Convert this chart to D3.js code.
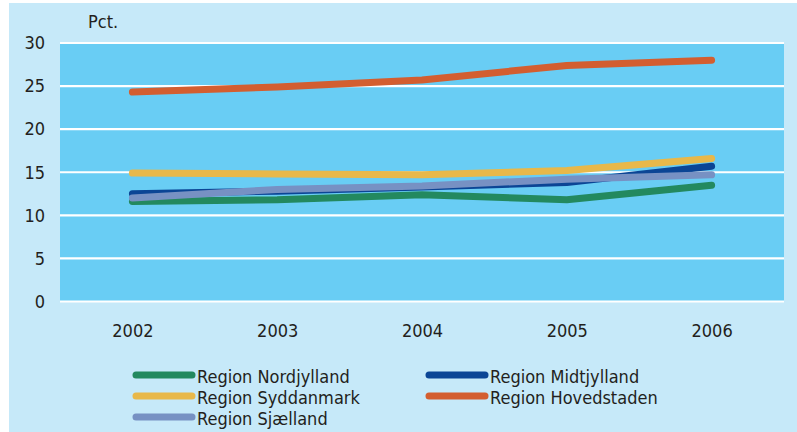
<!DOCTYPE html>
<html>
<head>
<meta charset="utf-8">
<script src="https://cdn.jsdelivr.net/npm/d3@7"></script>
<style>
  html, body { margin: 0; padding: 0; background: #ffffff; }
  svg { display: block; }
  text { font-family: "Liberation Sans Narrow", "DejaVu Sans Condensed", "Roboto Condensed", sans-serif; fill: #231f20; }
</style>
</head>
<body>
<svg id="chart" width="797" height="432"></svg>
<script>
// Share of population (pct.) by Danish region, 2002–2006
const years = ["2002", "2003", "2004", "2005", "2006"];
const yTicks = [0, 5, 10, 15, 20, 25, 30];

const nordjylland = [11.6, 11.8, 12.4, 11.8, 13.5];
const midtjylland = [12.5, 12.8, 13.3, 13.8, 15.7];
const syddanmark  = [14.9, 14.8, 14.7, 15.2, 16.6];
const hovedstaden = [24.3, 24.9, 25.7, 27.4, 28.0];
const sjaelland   = [12.0, 13.0, 13.4, 14.2, 14.7];

const series = [
  { name: "Region Nordjylland", values: nordjylland, color: "#23895f" },
  { name: "Region Midtjylland", values: midtjylland, color: "#0b4595" },
  { name: "Region Syddanmark",  values: syddanmark,  color: "#e8b84a" },
  { name: "Region Hovedstaden", values: hovedstaden, color: "#d35e30" },
  { name: "Region Sjælland",    values: sjaelland,   color: "#7791c3" }
];
// draw order (back to front)
const drawOrder = ["Region Hovedstaden", "Region Syddanmark", "Region Midtjylland", "Region Nordjylland", "Region Sjælland"];

const svg = d3.select("#chart");

// outer panel
svg.append("rect").attr("x", 9).attr("y", 3).attr("width", 788).attr("height", 429).attr("fill", "#c6e9f9");

const plot = { left: 60, right: 784, top: 43, bottom: 301.5 };

svg.append("rect")
  .attr("x", plot.left).attr("y", plot.top)
  .attr("width", plot.right - plot.left).attr("height", plot.bottom - plot.top)
  .attr("fill", "#69cdf4");

const x = d3.scalePoint().domain(years).range([plot.left, plot.right]).padding(0.5);
const y = d3.scaleLinear().domain([0, 30]).range([plot.bottom, plot.top]);

// gridlines
svg.append("g").selectAll("line").data(yTicks).join("line")
  .attr("x1", plot.left).attr("x2", plot.right)
  .attr("y1", d => y(d)).attr("y2", d => y(d))
  .attr("stroke", "#ffffff").attr("stroke-width", 2.2);

// y axis labels
const yAxis = d3.axisLeft(y).tickValues(yTicks).tickSize(0).tickPadding(0);
const gy = svg.append("g").attr("transform", "translate(45,0)").call(yAxis);
gy.select(".domain").remove();
gy.selectAll("text").attr("font-size", 18).attr("fill", "#231f20")
  .style("font-family", "'Liberation Sans Narrow', 'DejaVu Sans Condensed', sans-serif");

// x axis labels
const xAxis = d3.axisBottom(x).tickSize(0).tickPadding(0);
const gx = svg.append("g").attr("transform", "translate(0,324)").call(xAxis);
gx.select(".domain").remove();
gx.selectAll("text").attr("font-size", 18).attr("fill", "#231f20")
  .style("font-family", "'Liberation Sans Narrow', 'DejaVu Sans Condensed', sans-serif");

svg.append("text").attr("x", 88).attr("y", 28).attr("font-size", 18).text("Pct.");

// lines
const line = d3.line().x((d, i) => x(years[i])).y(d => y(d));
const byName = new Map(series.map(s => [s.name, s]));
svg.append("g").selectAll("path").data(drawOrder.map(n => byName.get(n))).join("path")
  .attr("d", d => line(d.values))
  .attr("fill", "none")
  .attr("stroke", d => d.color)
  .attr("stroke-width", 7)
  .attr("stroke-linecap", "round")
  .attr("stroke-linejoin", "round");

// legend
const legendItems = [
  { s: byName.get("Region Nordjylland"), col: 0, row: 0 },
  { s: byName.get("Region Midtjylland"), col: 1, row: 0 },
  { s: byName.get("Region Syddanmark"),  col: 0, row: 1 },
  { s: byName.get("Region Hovedstaden"), col: 1, row: 1 },
  { s: byName.get("Region Sjælland"),    col: 0, row: 2 }
];
const colX = [136, 429];
const rowY = [375, 396, 417];
const lg = svg.append("g").selectAll("g").data(legendItems).join("g")
  .attr("transform", d => `translate(${colX[d.col]},${rowY[d.row]})`);
lg.append("line").attr("x1", 0).attr("x2", 56).attr("y1", 0).attr("y2", 0)
  .attr("stroke", d => d.s.color).attr("stroke-width", 7).attr("stroke-linecap", "round");
lg.append("text").attr("x", 61).attr("y", 8).attr("font-size", 18).text(d => d.s.name);
</script>
</body>
</html>
